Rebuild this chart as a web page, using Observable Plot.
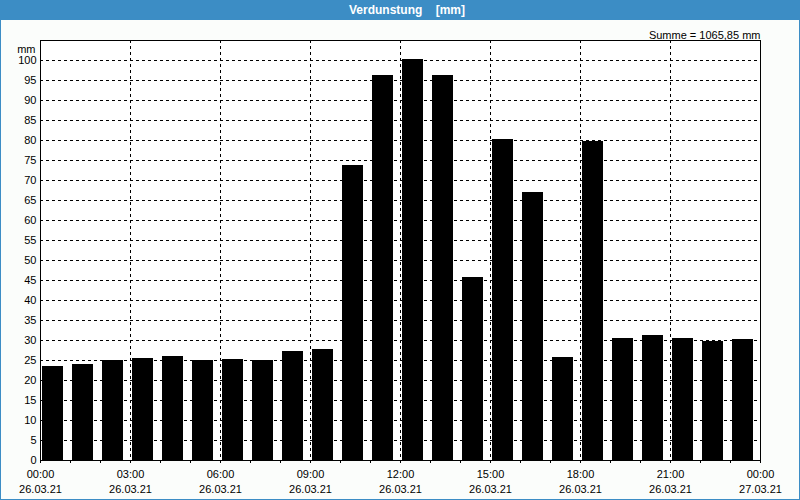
<!DOCTYPE html>
<html><head><meta charset="utf-8">
<script src="https://cdn.jsdelivr.net/npm/d3@7"></script>
<script src="https://cdn.jsdelivr.net/npm/@observablehq/plot@0.6"></script>
<style>
body{margin:0;background:#fbfdfb}
#win{width:800px;height:500px;box-sizing:border-box;border:1px solid #3c8dc5;border-top:none;background:#fbfdfb;position:relative;overflow:hidden}
#title{height:20px;background:#3c8dc5;color:#fff;font:bold 12px "Liberation Sans",Arial,sans-serif;text-align:center;line-height:20px;white-space:pre;margin:0 -1px;padding-left:14px}
#chart svg{display:block}
</style></head>
<body>
<div id="win"><div id="title">Verdunstung    [mm]</div><div id="chart"></div></div>
<script>
const hours = d3.range(24);
const values = [23.6, 24.1, 25, 25.5, 26.1, 25, 25.25, 25, 27.3, 27.8, 73.75, 96.25, 100.25, 96.25, 45.8, 80.25, 67, 25.75, 79.75, 30.5, 31.3, 30.5, 29.8, 30.25];
const timeLabels = ["00:00","03:00","06:00","09:00","12:00","15:00","18:00","21:00","00:00"];
const dateLabels = ["26.03.21","26.03.21","26.03.21","26.03.21","26.03.21","26.03.21","26.03.21","26.03.21","27.03.21"];
const yTicks = d3.range(0, 101, 5);
const sumText = "Summe = 1065,85 mm";
const unitText = "mm";

const data = hours.map((h, i) => ({h, v: values[i]}));
const labelTicks = d3.range(0, 25, 3);

const chart = Plot.plot({
  width: 798, height: 479,
  marginLeft: 39, marginRight: 39, marginTop: 20, marginBottom: 39,
  style: {fontFamily: '"Liberation Sans", Arial, sans-serif', fontSize: "11px", background: "transparent", color: "#000"},
  x: {domain: [0, 24], axis: null},
  y: {domain: [0, 105], axis: null},
  marks: [
    Plot.rect([0], {x1: 0, x2: 24, y1: 0, y2: 105, fill: "#fff"}),
    Plot.ruleY(yTicks.filter(d => d > 0), {stroke: "#000", strokeDasharray: "3,3"}),
    Plot.ruleX(labelTicks.filter(d => d > 0 && d < 24), {stroke: "#000", strokeDasharray: "3,3"}),
    Plot.rectY(data, {x1: "h", x2: d => d.h + 1, y: "v", fill: "#000", insetLeft: 2, insetRight: 7, shapeRendering: "crispEdges"}),
    Plot.frame({stroke: "#000"}),
    Plot.axisY(yTicks, {tickSize: 0, tickPadding: 4, label: null}),
    Plot.axisX(d3.range(25), {tickSize: 3, tickFormat: () => "", label: null}),
    Plot.axisX(labelTicks, {tickSize: 0, tickPadding: 7, lineHeight: 1.38, label: null,
      tickFormat: (d, i) => timeLabels[labelTicks.indexOf(d)] + "\n" + dateLabels[labelTicks.indexOf(d)]}),
    Plot.text([unitText], {frameAnchor: "top-left", dx: -5, dy: 5, textAnchor: "end"}),
    Plot.text([sumText], {frameAnchor: "top-right", dy: -9, textAnchor: "end"})
  ]
});
document.getElementById("chart").appendChild(chart);
</script>
</body></html>
